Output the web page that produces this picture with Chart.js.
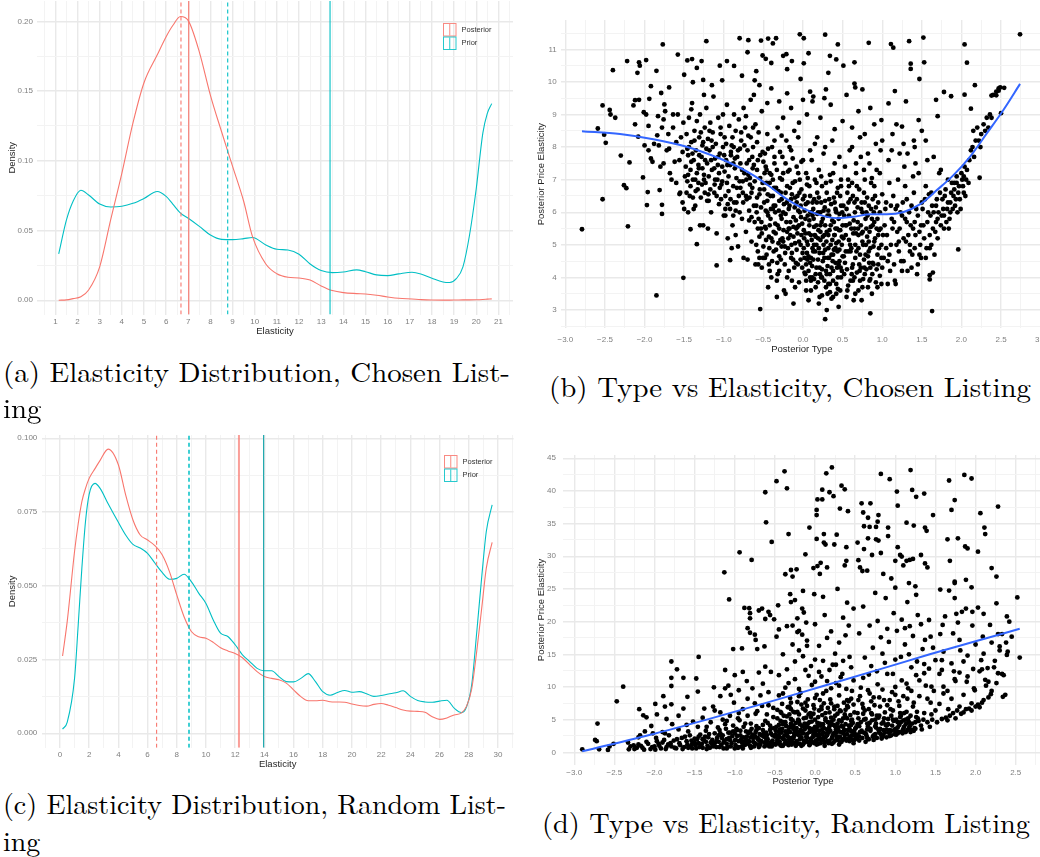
<!DOCTYPE html>
<html>
<head>
<meta charset="utf-8">
<script src="https://cdn.jsdelivr.net/npm/chart.js@4.4.1/dist/chart.umd.min.js"></script>
<style>
  html, body { margin: 0; padding: 0; background: #fff; }
  body { width: 1040px; height: 857px; position: relative; overflow: hidden; }
  .panel { position: absolute; }
  .cap { position: absolute; font-family: "Liberation Serif", serif;
         font-size: 28px; line-height: 28px; color: #000; white-space: nowrap; display: inline-block;
         transform-origin: 0 0; }
</style>
</head>
<body>

<canvas class="panel" id="chartA" width="520" height="340" style="left:0;top:0"></canvas>
<canvas class="panel" id="chartB" width="528" height="360" style="left:520px;top:0"></canvas>
<canvas class="panel" id="chartC" width="520" height="350" style="left:0;top:425px"></canvas>
<canvas class="panel" id="chartD" width="528" height="355" style="left:520px;top:440px"></canvas>

<div class="cap" id="capA1" data-w="507" data-base="381.7" style="left:3px;top:358px">(a) Elasticity Distribution, Chosen List-</div>
<div class="cap" id="capA2" data-of="capA1" data-base="418.2" style="left:3px;top:394px">ing</div>
<div class="cap" id="capB" data-w="482" data-base="397.3" style="left:549px;top:373px">(b) Type vs Elasticity, Chosen Listing</div>
<div class="cap" id="capC1" data-w="503" data-base="814.3" style="left:3px;top:791px">(c) Elasticity Distribution, Random List-</div>
<div class="cap" id="capC2" data-of="capC1" data-base="850.7" style="left:3px;top:827px">ing</div>
<div class="cap" id="capD" data-w="488" data-base="833.3" style="left:542px;top:810px">(d) Type vs Elasticity, Random Listing</div>

<script>
// ---- density curves, chosen listing ----
const chosenX = [1.15, 1.5, 1.8, 2.15, 2.5, 3, 3.5, 4, 4.5, 5, 5.6, 6, 6.3, 6.65, 7, 7.5, 8, 8.5, 9, 9.5,
  9.9, 10.5, 11, 11.5, 12, 12.5, 13, 13.5, 14, 14.6, 15, 15.5, 16, 16.5, 17.1, 17.5, 18, 18.5, 18.8, 19.1,
  19.4, 19.7, 20, 20.3, 20.5, 20.7];
const chosenPosterior = [0, 0.0003, 0.0012, 0.0025, 0.0074, 0.024, 0.058, 0.091, 0.127, 0.156, 0.176, 0.189,
  0.197, 0.2035, 0.2005, 0.178, 0.147, 0.121, 0.096, 0.071, 0.0456, 0.026, 0.019, 0.0165, 0.016, 0.0145,
  0.0103, 0.007, 0.0055, 0.0048, 0.0045, 0.0036, 0.0024, 0.0014, 0.0009, 0.0005, 0.0002, 0.0001, 0.0001,
  0.0002, 0.0003, 0.0003, 0.0004, 0.0006, 0.0008, 0.001];
const chosenPrior = [0.0332, 0.0576, 0.071, 0.0789, 0.0755, 0.069, 0.0669, 0.0674, 0.0695, 0.073, 0.078,
  0.0745, 0.069, 0.0625, 0.0588, 0.053, 0.0468, 0.0437, 0.0435, 0.0442, 0.045, 0.0397, 0.0366, 0.036, 0.033,
  0.026, 0.0213, 0.0198, 0.0203, 0.0218, 0.0205, 0.0182, 0.0177, 0.0189, 0.0201, 0.0189, 0.0158, 0.0131,
  0.0127, 0.0155, 0.024, 0.047, 0.08, 0.12, 0.134, 0.141];
// solid = mean, dashed = median
const chosenPosteriorMean = 7.02, chosenPosteriorMedian = 6.67;
const chosenPriorMean = 13.4, chosenPriorMedian = 8.78;

// ---- density curves, random listing ----
const randomX = [0.18, 0.5, 1, 1.25, 1.5, 1.75, 2, 2.4, 2.75, 3.3, 4, 4.5, 5, 5.5, 6, 6.5, 7, 7.5, 8, 8.5,
  9, 9.5, 10, 10.5, 11, 11.5, 12, 12.5, 13, 13.5, 14, 14.5, 15, 15.5, 16, 16.5, 17, 17.5, 18, 18.5,
  19, 19.5, 20, 20.5, 21, 21.5, 22, 22.5, 23, 23.5, 24, 24.5, 25, 25.5, 26, 26.5, 27, 27.5, 27.85, 28.2,
  28.55, 28.9, 29.2, 29.6];
const randomPosterior = [0.0262, 0.038, 0.0616, 0.071, 0.0785, 0.083, 0.0864, 0.0897, 0.0925, 0.0963,
  0.091, 0.0808, 0.0723, 0.0672, 0.0655, 0.0636, 0.0605, 0.0548, 0.0469, 0.0395, 0.0345, 0.0327, 0.0322,
  0.0308, 0.029, 0.0279, 0.027, 0.0256, 0.0232, 0.0209, 0.0192, 0.0186, 0.0181, 0.017, 0.0147, 0.0124,
  0.011, 0.011, 0.0112, 0.0107, 0.0106, 0.0105, 0.0099, 0.0094, 0.0092, 0.0098, 0.0101, 0.0095, 0.0087,
  0.0079, 0.0075, 0.0074, 0.0071, 0.0056, 0.0047, 0.0052, 0.0062, 0.0069, 0.0092, 0.015, 0.028, 0.043,
  0.056, 0.0647];
const randomPrior = [0.0014, 0.0038, 0.0186, 0.0367, 0.0559, 0.0718, 0.081, 0.0847, 0.083, 0.0778, 0.0715,
  0.0672, 0.064, 0.0628, 0.061, 0.0577, 0.0545, 0.0522, 0.0525, 0.0539, 0.0514, 0.0475, 0.044, 0.0384,
  0.0339, 0.0328, 0.03, 0.0266, 0.0243, 0.022, 0.0212, 0.0212, 0.0192, 0.0175, 0.0174, 0.0186, 0.0202,
  0.0175, 0.0141, 0.0129, 0.0138, 0.0145, 0.0139, 0.0141, 0.0134, 0.0125, 0.0128, 0.0133, 0.0137, 0.0144,
  0.0125, 0.0111, 0.0106, 0.0105, 0.0109, 0.0112, 0.0085, 0.007, 0.009, 0.0164, 0.0345, 0.0537, 0.0684,
  0.0774];
const randomPosteriorMean = 12.26, randomPosteriorMedian = 6.62;
const randomPriorMean = 13.95, randomPriorMedian = 8.84;

// ---- type vs elasticity, chosen listing: [posterior type, posterior price elasticity] ----
const chosenPoints = [
  [-2.79,5.48],[-2.59,8.57],[-2.53,9.28],[-2.53,6.4],[-2.51,8.38],[-2.49,8.13],[-2.44,9.14],[-2.43,9.0],
  [-2.4,10.36],[-2.37,8.9],[-2.3,7.74],[-2.26,6.83],[-2.23,6.74],[-2.22,10.64],[-2.21,5.57],[-2.19,7.53],
  [-2.14,9.28],[-2.12,9.44],[-2.12,8.7],[-2.09,10.28],[-2.07,10.6],[-2.07,9.45],[-2.06,10.5],[-2.08,8.32],
  [-2.02,7.07],[-2.01,9.07],[-1.98,10.67],[-1.97,6.22],[-1.96,6.62],[-1.95,8.65],[-1.92,9.87],[-1.94,9.48],
  [-1.85,10.34],[-1.85,3.45],[-1.84,8.36],[-1.81,6.68],[-1.79,9.66],[-1.78,6.23],[-1.78,5.95],[-1.77,11.15],
  [-1.76,7.5],[-1.75,9.31],[-1.69,9.83],[-1.69,7.95],[-1.64,9.0],[-1.58,10.84],[-1.56,6.56],[-1.51,3.99],
  [-1.5,10.22],[-1.46,10.66],[-1.41,9.16],[-1.4,10.7],[-1.39,9.99],[-1.34,10.43],[-1.28,10.64],[-1.26,10.06],
  [-1.22,11.25],[-1.34,5.02],[-1.42,5.48],[-1.09,4.37],[-1.05,10.5],[-1.02,10.05],[-0.96,10.64],[-0.92,4.53],
  [-0.87,10.49],[-0.8,11.34],[-0.77,10.19],[-0.69,11.28],[-0.7,10.91],[-0.61,10.05],[-0.59,10.33],[-0.53,11.27],
  [-0.54,3.03],[-0.51,10.81],[-0.44,11.33],[-0.47,10.71],[-0.4,10.58],[-0.38,11.18],[-0.34,11.34],[-0.25,10.8],
  [-0.21,10.85],[-0.2,10.39],[-0.14,10.64],[-0.04,11.46],[-0.03,10.09],[0.01,11.34],[0.01,10.57],[0.07,10.88],
  [0.09,9.7],[0.13,9.55],[0.28,11.45],[0.29,9.77],[0.32,10.28],[0.34,10.8],[0.42,10.69],[0.44,11.15],
  [0.51,10.5],[0.65,10.6],[0.66,9.83],[0.75,9.77],[0.83,11.2],[0.99,8.83],[1.08,9.34],[1.11,11.16],
  [1.14,11.05],[1.16,9.72],[1.34,11.25],[1.36,10.56],[1.36,10.4],[1.47,10.09],[1.52,11.36],[1.53,10.6],
  [1.25,8.63],[1.46,8.83],[1.68,9.45],[1.78,9.69],[1.87,9.56],[1.7,8.95],[2.04,11.15],[2.07,10.59],
  [2.04,9.61],[2.17,9.9],[2.12,9.18],[1.96,4.86],[2.23,7.06],[2.74,11.46],[2.44,9.59],[2.49,9.83],
  [2.54,9.82],[2.47,9.73],[2.5,9.04],[2.38,9.58],[1.63,2.97],[0.85,2.9],[0.28,2.72],[1.6,4.07],
  [1.6,3.94],[1.64,4.15],
  [-1.95,7.9],[-1.9,7.55],[-1.88,8.1],[-1.82,8.05],[-1.8,7.4],[-1.76,8.85],[-1.74,9.1],[-1.72,7.9],
  [-1.7,8.4],[-1.68,7.2],[-1.66,7.0],[-1.64,8.6],[-1.62,7.55],[-1.6,8.15],[-1.6,6.9],[-1.58,9.0],
  [-1.56,7.6],[-1.55,6.6],[-1.54,8.3],[-1.52,7.85],[-1.52,6.3],[-1.51,8.75],[-1.5,6.1],[-1.98,9.0],
  [-2.0,8.05],[-1.92,7.65],[-1.83,8.95],[-1.78,8.6],
  [-1.48,7.4],[-1.47,8.4],[-1.46,6.95],[-1.45,7.75],[-1.44,8.9],[-1.43,6.5],[-1.42,7.3],[-1.41,8.15],
  [-1.4,9.35],[-1.39,7.0],[-1.38,7.6],[-1.37,8.5],[-1.36,6.2],[-1.35,7.9],[-1.34,8.8],[-1.33,6.7],
  [-1.32,7.45],[-1.31,8.3],[-1.3,9.0],[-1.29,6.45],[-1.28,7.7],[-1.27,8.05],[-1.26,5.6],[-1.25,7.15],
  [-1.24,8.6],[-1.23,6.9],[-1.22,9.2],[-1.21,7.5],[-1.2,8.25],[-1.19,6.35],[-1.18,7.9],[-1.17,8.75],
  [-1.16,6.0],[-1.15,7.3],[-1.14,8.45],[-1.13,9.55],[-1.12,6.6],[-1.11,7.65],[-1.1,8.1],[-1.09,5.35],
  [-1.08,7.0],[-1.07,8.9],[-1.06,6.25],[-1.05,7.8],[-1.04,8.4],[-1.03,6.85],[-1.02,7.4],[-1.01,9.0],
  [-1.0,5.9],[-1.45,6.0],[-1.38,6.1],[-1.3,5.6],[-1.2,5.5],[-1.25,9.6],[-1.15,9.9],
  [-0.99,8.3],[-0.98,6.5],[-0.97,7.6],[-0.96,9.3],[-0.95,5.2],[-0.94,7.1],[-0.93,8.65],[-0.92,6.1],
  [-0.91,7.85],[-0.9,8.05],[-0.89,5.6],[-0.88,6.8],[-0.87,9.0],[-0.86,7.35],[-0.85,8.5],[-0.84,6.3],
  [-0.83,7.7],[-0.82,4.95],[-0.81,8.85],[-0.8,6.95],[-0.79,7.5],[-0.78,8.2],[-0.77,5.8],[-0.76,6.6],
  [-0.75,9.2],[-0.74,7.2],[-0.73,8.6],[-0.72,5.4],[-0.71,6.4],[-0.7,7.9],[-0.69,8.35],[-0.68,6.05],
  [-0.67,7.05],[-0.66,9.45],[-0.65,5.1],[-0.64,6.75],[-0.63,8.0],[-0.62,7.45],[-0.61,5.7],[-0.6,8.7],
  [-0.59,6.2],[-0.58,7.3],[-0.57,4.8],[-0.56,8.45],[-0.55,6.55],[-0.54,7.75],[-0.53,5.5],[-0.52,9.1],
  [-0.51,6.9],[-0.5,7.55],[-0.98,5.9],[-0.9,4.9],[-0.85,5.3],[-0.75,4.6],[-0.7,4.55],[-0.65,5.85],
  [-0.6,4.4],[-0.55,5.25],[-0.95,6.25],[-0.8,6.0],[-0.72,8.95],[-0.62,9.6],[-0.88,7.5],[-0.68,7.6],
  [-0.58,8.15],
  [-0.49,6.3],[-0.48,4.6],[-0.48,7.8],[-0.47,5.5],[-0.46,6.9],[-0.45,8.4],[-0.44,5.9],[-0.43,4.4],
  [-0.42,7.2],[-0.41,6.5],[-0.4,5.2],[-0.39,8.0],[-0.38,6.1],[-0.37,4.8],[-0.36,7.5],[-0.35,5.65],
  [-0.34,6.75],[-0.33,3.9],[-0.32,8.6],[-0.31,5.05],[-0.3,6.35],[-0.29,7.05],[-0.28,4.55],[-0.27,5.8],
  [-0.26,7.7],[-0.25,6.0],[-0.24,3.6],[-0.23,4.95],[-0.22,6.6],[-0.21,8.2],[-0.2,5.4],[-0.19,7.25],
  [-0.18,4.2],[-0.17,6.2],[-0.16,5.7],[-0.15,7.9],[-0.14,4.75],[-0.13,6.9],[-0.12,5.25],[-0.11,8.5],
  [-0.1,6.45],[-0.09,4.45],[-0.08,7.4],[-0.07,5.55],[-0.06,6.05],[-0.05,3.85],[-0.04,7.0],[-0.03,5.0],
  [-0.02,6.7],[-0.01,4.3],[0.0,7.6],[-0.45,6.0],[-0.42,5.6],[-0.38,7.0],[-0.35,6.2],[-0.3,5.5],
  [-0.28,6.6],[-0.25,5.1],[-0.22,5.95],[-0.18,5.5],[-0.15,6.4],[-0.12,5.85],[-0.1,5.05],[-0.08,6.3],
  [-0.05,5.6],[-0.03,6.2],[-0.02,5.3],[-0.46,7.3],[-0.36,8.2],[-0.27,8.35],[-0.17,8.0],[-0.06,8.3],
  [-0.4,4.0],[-0.3,4.2],[-0.2,4.0],[-0.1,3.7],[-0.33,3.4],[-0.22,3.5],[-0.12,3.2],[-0.44,3.7],
  [0.01,5.45],[0.02,6.5],[0.03,4.1],[0.04,7.2],[0.05,4.75],[0.06,5.9],[0.07,3.3],[0.08,6.8],
  [0.09,4.45],[0.1,5.3],[0.11,7.6],[0.12,4.0],[0.13,6.1],[0.14,5.0],[0.15,8.1],[0.16,3.7],
  [0.17,5.6],[0.18,6.6],[0.19,4.55],[0.2,7.3],[0.21,3.4],[0.22,5.15],[0.23,6.3],[0.24,4.25],
  [0.25,5.8],[0.26,7.8],[0.27,3.9],[0.28,4.85],[0.29,6.9],[0.3,5.4],[0.31,3.5],[0.32,6.05],
  [0.33,4.6],[0.34,7.15],[0.35,5.0],[0.36,3.35],[0.37,5.75],[0.38,4.2],[0.39,6.45],[0.4,7.5],
  [0.41,4.9],[0.42,3.8],[0.43,5.5],[0.44,6.75],[0.45,4.4],[0.46,5.95],[0.47,3.6],[0.48,7.0],
  [0.49,5.25],[0.5,4.65],[0.05,5.1],[0.08,5.6],[0.1,4.6],[0.12,5.9],[0.15,5.3],[0.17,4.3],
  [0.2,4.9],[0.22,5.6],[0.25,4.5],[0.27,5.3],[0.3,4.1],[0.32,4.9],[0.35,5.6],[0.38,4.7],
  [0.4,5.3],[0.43,4.3],[0.45,5.1],[0.48,4.0],[0.02,4.6],[0.06,6.3],[0.14,6.4],[0.19,6.0],
  [0.24,6.8],[0.33,6.4],[0.41,6.1],[0.47,6.5],[0.09,7.9],[0.18,8.3],[0.28,8.0],[0.37,8.2],
  [0.46,7.7],[0.1,3.6],[0.2,3.2],[0.3,3.0],[0.38,3.4],[0.45,3.1],[0.04,3.9],[0.13,4.8],
  [0.23,4.0],[0.34,3.8],[0.42,3.5],
  [0.51,6.2],[0.52,4.1],[0.53,7.4],[0.54,5.3],[0.55,3.4],[0.56,6.6],[0.57,4.8],[0.58,5.9],
  [0.59,7.9],[0.6,3.9],[0.61,5.5],[0.62,6.9],[0.63,4.4],[0.64,3.3],[0.65,6.3],[0.66,5.0],
  [0.67,7.2],[0.68,4.15],[0.69,5.7],[0.7,3.6],[0.71,6.7],[0.72,4.7],[0.73,7.7],[0.74,5.35],
  [0.75,6.0],[0.76,3.95],[0.77,4.55],[0.78,7.0],[0.79,5.8],[0.8,4.25],[0.81,6.45],[0.82,3.7],
  [0.83,5.1],[0.84,7.5],[0.85,4.9],[0.86,6.1],[0.87,3.5],[0.88,5.6],[0.89,4.4],[0.9,6.8],
  [0.91,5.2],[0.92,3.85],[0.93,7.3],[0.94,4.7],[0.95,6.3],[0.96,5.45],[0.97,4.05],[0.98,7.9],
  [0.99,5.0],[1.0,6.55],[0.55,5.6],[0.6,4.8],[0.65,5.5],[0.7,4.9],[0.75,5.1],[0.8,5.5],
  [0.85,4.3],[0.9,5.7],[0.95,4.4],[0.58,6.8],[0.68,6.4],[0.78,6.3],[0.88,6.4],[0.62,8.0],
  [0.72,8.3],[0.82,7.8],[0.92,8.1],[0.66,3.5],[0.74,3.3],[0.84,3.9],[0.94,3.7],
  [1.02,4.6],[1.04,6.1],[1.06,5.3],[1.08,7.6],[1.1,4.2],[1.12,5.8],[1.14,6.5],[1.16,3.9],
  [1.18,5.0],[1.2,7.0],[1.22,5.5],[1.24,4.5],[1.26,6.3],[1.28,7.4],[1.3,5.1],[1.32,4.2],
  [1.34,6.0],[1.36,5.6],[1.38,4.7],[1.4,6.6],[1.42,5.3],[1.44,4.1],[1.46,7.2],[1.48,5.0],
  [1.5,6.3],[1.05,4.9],[1.15,5.7],[1.25,5.9],[1.35,5.0],[1.45,5.9],[1.12,7.9],[1.22,7.8],
  [1.32,7.8],[1.42,7.5],[1.09,6.9],[1.19,6.2],[1.29,6.8],[1.39,7.1],[1.49,4.6],[1.07,3.8],
  [1.17,3.8],[1.27,4.5],[1.37,4.3],[1.47,4.7],[1.13,8.4],[1.27,8.1],[1.41,8.0],
  [1.52,5.6],[1.54,6.4],[1.56,4.9],[1.58,6.0],[1.6,5.3],[1.62,6.6],[1.64,5.5],[1.66,4.7],
  [1.68,6.2],[1.7,5.8],[1.72,7.2],[1.74,5.6],[1.76,6.4],[1.78,5.9],[1.8,6.7],[1.82,6.1],
  [1.84,5.5],[1.86,6.3],[1.88,6.9],[1.9,6.5],[1.92,6.2],[1.94,7.1],[1.96,6.6],[1.98,6.4],
  [2.0,7.2],[2.02,6.8],[2.04,7.4],[2.06,7.0],[1.62,5.0],[1.7,5.2],[1.78,5.5],[1.86,6.0],
  [1.94,6.9],[2.03,6.6],[1.57,7.6],[1.65,7.7],[1.74,7.3],[1.83,7.0],[1.91,6.7],[1.55,4.6],
  [1.6,4.9],[1.68,5.7],
  [2.1,7.6],[2.12,7.9],[2.14,8.0],[2.16,7.7],[2.18,8.2],[2.2,8.6],[2.22,8.2],[2.25,8.4],
  [2.28,8.7],[2.3,8.5],[2.32,8.9],[2.34,8.6],[2.36,9.0],[2.38,8.9],[2.4,9.6],[2.44,9.7],
  [2.47,9.8],[2.15,8.5],[2.24,8.0],
  [-0.45,9.35],[-0.3,9.4],[-0.15,9.2],[0.05,9.0],[0.12,9.4],[0.22,8.9],[0.35,9.3],[0.5,8.8],
  [0.62,8.6],[0.7,9.1],[0.78,8.4],[0.9,8.7],[1.0,8.2],[1.18,8.7],[-0.25,8.9],[-0.05,8.75],
  [0.4,8.55],[0.55,9.6],[0.85,9.2],[-0.55,9.9],[-0.4,9.8],[-0.2,9.65],[0.0,9.45],[0.27,9.5],
  [0.65,9.95],[1.4,8.2],[1.5,8.5],[1.55,8.2],[1.3,9.4]
];
// the packed centre of the cloud
const chosenPointsDense = [
  [-1.49,7.1],[-1.47,6.6],[-1.44,8.0],[-1.41,7.55],[-1.39,6.45],[-1.37,8.2],[-1.34,7.2],[-1.32,6.9],
  [-1.29,8.45],[-1.27,7.35],[-1.24,6.6],[-1.22,7.95],[-1.19,7.1],[-1.17,6.7],[-1.14,8.0],[-1.12,7.35],
  [-1.09,6.5],[-1.07,7.7],[-1.04,8.6],[-1.02,6.95],[-0.99,7.25],[-0.97,8.1],[-0.94,6.65],[-0.92,7.45],
  [-0.89,8.3],[-0.87,6.3],[-0.84,7.05],[-0.82,7.9],[-0.79,6.75],[-0.77,7.3],[-0.74,8.05],[-0.72,6.5],
  [-0.69,7.15],[-0.67,6.85],[-0.64,7.7],[-0.62,6.2],[-1.46,7.95],[-1.36,7.0],[-1.26,8.15],[-1.16,7.6],
  [-1.06,7.2],[-0.96,6.9],[-0.86,7.65],[-0.76,6.95],[-0.66,8.3],[-1.42,6.8],[-1.31,7.75],[-1.21,6.35],
  [-1.11,7.0],[-1.01,8.0],[-0.91,7.75],[-0.81,6.5],[-0.71,7.5],[-0.61,6.95],[-1.18,8.5],[-0.98,6.1],
  [-0.88,5.9],[-0.78,8.45],[-0.68,5.75],[-0.63,8.6],
  [-0.59,5.0],[-0.58,6.45],[-0.57,7.6],[-0.56,5.8],[-0.55,4.6],[-0.54,7.05],[-0.53,6.15],[-0.52,5.35],
  [-0.51,7.85],[-0.5,4.95],[-0.49,6.7],[-0.48,5.55],[-0.47,7.4],[-0.46,4.7],[-0.45,6.35],[-0.44,7.95],
  [-0.43,5.25],[-0.42,6.9],[-0.41,5.8],[-0.4,7.15],[-0.39,4.5],[-0.38,6.5],[-0.37,5.4],[-0.36,7.7],
  [-0.35,6.0],[-0.34,4.85],[-0.33,7.3],[-0.32,5.6],[-0.31,6.65],[-0.3,4.65],[-0.29,7.85],[-0.28,5.9],
  [-0.27,6.4],[-0.26,5.2],[-0.25,7.2],[-0.24,6.25],[-0.23,4.4],[-0.22,7.5],[-0.21,5.7],[-0.2,6.8],
  [-0.19,4.9],[-0.18,6.1],[-0.17,7.3],[-0.16,5.3],[-0.15,4.6],[-0.14,6.55],[-0.13,7.65],[-0.12,5.55],
  [-0.11,4.3],[-0.1,6.95],[-0.09,5.75],[-0.08,4.85],[-0.07,6.5],[-0.06,7.2],[-0.05,5.1],[-0.04,6.0],
  [-0.03,4.55],[-0.02,7.55],[-0.01,5.65],[0.0,6.4],[-0.57,5.5],[-0.47,6.05],[-0.37,6.2],[-0.27,4.95],
  [-0.17,5.5],[-0.07,5.35],[-0.52,4.3],[-0.42,4.2],[-0.32,4.1],[-0.14,3.9],
  [0.01,4.9],[0.02,6.05],[0.03,5.35],[0.04,4.4],[0.05,6.85],[0.06,5.0],[0.07,4.2],[0.08,5.75],
  [0.09,6.5],[0.1,3.9],[0.11,5.15],[0.12,6.3],[0.13,4.55],[0.14,5.55],[0.15,7.0],[0.16,4.1],
  [0.17,5.0],[0.18,5.95],[0.19,3.85],[0.2,6.45],[0.21,4.75],[0.22,5.4],[0.23,7.1],[0.24,4.0],
  [0.25,5.25],[0.26,6.05],[0.27,4.6],[0.28,5.6],[0.29,3.7],[0.3,6.6],[0.31,4.35],[0.32,5.3],
  [0.33,5.9],[0.34,4.1],[0.35,6.95],[0.36,4.7],[0.37,5.15],[0.38,3.9],[0.39,5.7],[0.4,6.3],
  [0.41,4.45],[0.42,5.05],[0.43,6.6],[0.44,3.65],[0.45,5.8],[0.46,4.85],[0.47,5.45],[0.48,6.2],
  [0.49,4.2],[0.5,5.6],[0.03,5.8],[0.07,4.65],[0.11,6.0],[0.16,5.25],[0.21,4.3],[0.26,5.0],
  [0.31,5.9],[0.36,4.3],[0.41,5.5],[0.46,4.5],[0.04,3.6],[0.14,3.95],[0.24,3.45],[0.34,3.55],
  [0.44,4.0],[0.06,7.05],[0.17,6.9],[0.28,6.35],[0.38,7.2],[0.48,6.8],[0.09,4.0],[0.19,5.2],
  [0.29,4.2],[0.39,4.85],[0.49,5.0],[0.02,4.15],[0.12,4.9],[0.22,6.0],[0.32,3.8],[0.42,6.0],
  [0.51,5.2],[0.53,4.45],[0.55,6.1],[0.57,3.75],[0.59,5.65],[0.61,4.9],[0.63,6.5],[0.65,4.0],
  [0.67,5.35],[0.69,6.15],[0.71,4.4],[0.73,5.6],[0.75,3.7],[0.77,6.6],[0.79,4.7],[0.81,5.25],
  [0.83,6.2],[0.85,3.95],[0.87,5.8],[0.89,4.95],[0.91,6.5],[0.93,4.25],[0.95,5.3],[0.97,6.0],
  [0.99,4.6],[0.52,5.9],[0.54,4.8],[0.56,3.6],[0.58,5.15],[0.6,6.4],[0.62,4.3],[0.64,5.75],
  [0.66,4.6],[0.68,6.8],[0.7,5.3],[0.72,3.9],[0.74,6.3],[0.76,5.0],[0.78,4.1],[0.8,6.0],
  [0.82,4.65],[0.84,5.4],[0.86,6.9],[0.88,4.45],[0.9,5.1],[0.92,6.15],[0.94,5.8],[0.96,4.9],
  [0.98,5.5],[1.0,4.3],[0.57,7.0],[0.67,7.5],[0.77,7.3],[0.87,7.05],[0.97,7.2],[0.63,3.9],
  [0.73,4.3],[0.83,4.8],[0.93,5.5],[0.99,3.8],
  [1.03,5.6],[1.07,4.5],[1.11,6.2],[1.15,4.4],[1.19,5.4],[1.23,6.0],[1.27,5.2],[1.31,6.4],
  [1.35,4.8],[1.39,5.5],[1.43,6.1],[1.47,5.4],[1.11,5.0],[1.21,4.8],[1.31,5.7],[1.41,4.9],
  [1.51,6.1],[1.53,5.2],[1.57,5.7],[1.59,6.55],[1.61,5.9],[1.63,6.2],[1.67,5.4],[1.69,6.4],
  [1.71,6.0],[1.73,6.6],[1.77,6.1],[1.79,6.5],[1.81,5.7],[1.83,6.3],[1.87,6.6],[1.89,6.1],
  [1.91,6.9],[1.93,6.4],[1.97,6.8],[1.99,6.1],[2.01,7.0],[2.05,6.5],[2.07,7.3],[2.09,6.9],
  [1.75,5.9],[1.85,5.8],[1.95,6.0],[2.03,7.1],[1.65,6.0],[1.55,6.8],
  [-0.585,6.0],[-0.565,4.4],[-0.545,6.7],[-0.525,5.7],[-0.505,4.6],[-0.485,7.2],[-0.465,5.15],[-0.445,6.55],
  [-0.425,4.9],[-0.405,6.1],[-0.385,5.1],[-0.365,6.75],[-0.345,5.35],[-0.325,4.45],[-0.305,6.05],[-0.285,5.15],
  [-0.265,7.0],[-0.245,5.45],[-0.225,4.75],[-0.205,6.3],[-0.185,5.2],[-0.165,6.75],[-0.145,5.0],[-0.125,4.55],
  [-0.105,6.15],[-0.085,5.5],[-0.065,4.4],[-0.045,6.6],[-0.025,5.85],[-0.005,4.75],
  [0.015,5.2],[0.035,6.25],[0.055,4.55],[0.075,5.35],[0.095,6.0],[0.115,4.35],[0.135,5.8],[0.155,4.8],
  [0.175,6.3],[0.195,5.45],[0.215,4.1],[0.235,5.7],[0.255,4.75],[0.275,6.15],[0.295,5.1],[0.315,4.6],
  [0.335,5.45],[0.355,6.25],[0.375,4.5],[0.395,5.3],[0.415,6.05],[0.435,4.8],[0.455,5.45],[0.475,4.3],
  [0.495,6.0],[0.515,4.65],[0.535,5.6],[0.555,4.25],[0.575,6.3],[0.595,5.0],[0.615,4.1],[0.635,5.35],
  [0.655,6.0],[0.675,4.8],[0.695,5.5],[0.715,4.2],[0.735,6.1],[0.755,5.4],[0.775,4.3],[0.795,5.0],
  [0.815,5.9],[0.835,4.45],[0.855,5.55],[0.875,4.1],[0.895,6.0],
  [-1.395,7.8],[-1.355,6.65],[-1.315,7.35],[-1.275,6.85],[-1.235,7.6],[-1.195,6.55],[-1.155,8.2],[-1.115,6.85],
  [-1.075,7.45],[-1.035,6.4],[-0.995,7.75],[-0.955,7.45],[-0.915,6.4],[-0.875,8.0],[-0.835,6.75],[-0.795,7.95],
  [-0.755,6.3],[-0.715,7.0],[-0.675,6.45],[-0.635,7.35],[-1.45,7.15],[-1.25,7.0],[-1.05,6.75],[-0.85,6.05],
  [-0.65,6.6],
  [1.01,5.3],[1.05,6.3],[1.09,4.7],[1.13,5.5],[1.17,6.1],[1.21,5.1],[1.25,4.2],[1.29,5.8],
  [1.33,5.3],[1.37,6.2],[1.41,5.7],[1.45,4.4],[1.49,5.6]
];
const chosenFitX = [-2.79, -2.31, -1.89, -1.47, -1.05, -0.84, -0.63, -0.42, -0.21, 0, 0.21, 0.43, 0.64,
  0.85, 1.06, 1.27, 1.48, 1.69, 1.9, 2.11, 2.32, 2.53, 2.74];
const chosenFitY = [8.49, 8.4, 8.24, 8.01, 7.65, 7.42, 7.14, 6.79, 6.41, 6.12, 5.92, 5.82, 5.86, 5.94,
  5.94, 6.01, 6.25, 6.68, 7.14, 7.71, 8.42, 9.14, 9.94];

// ---- type vs elasticity, random listing ----
const randomPoints = [
  [-2.9,0.46],[-2.74,1.9],[-2.72,1.7],[-2.71,4.4],[-2.69,0.46],[-2.58,0.36],[-2.56,0.9],[-2.51,1.3],
  [-2.47,7.8],[-2.39,10.05],[-2.33,1.5],[-2.32,0.46],[-2.26,1.07],[-2.19,6.6],[-2.18,2.6],[-2.14,5.66],
  [-2.1,5.36],[-2.04,4.03],[-1.99,7.4],[-1.97,5.8],[-1.89,8.6],[-1.87,7.0],[-1.79,13.9],[-1.79,11.4],
  [-1.79,10.15],[-1.79,7.35],[-1.72,12.7],[-1.64,11.4],[-1.59,8.5],[-1.64,6.7],[-1.48,11.3],[-1.45,14.6],
  [-1.46,9.3],[-1.38,6.7],[-1.26,9.95],[-1.18,8.6],[-1.13,27.55],[-1.12,12.6],[-1.07,23.4],[-1.08,10.2],
  [-1.0,11.8],[-1.02,15.8],[-0.94,30.6],[-0.91,15.9],[-0.88,22.1],[-0.82,22.05],[-0.81,21.3],[-0.81,20.5],
  [-0.84,19.0],[-0.81,18.3],[-0.79,29.45],[-0.75,18.0],[-0.74,17.2],[-0.72,15.8],[-0.7,21.7],[-0.66,22.0],
  [-0.63,16.2],[-0.62,39.8],[-0.61,35.2],[-0.62,20.4],[-0.58,21.5],[-0.54,32.2],[-0.56,21.0],[-0.51,20.35],
  [-0.48,41.5],[-0.46,22.5],[-0.48,17.7],[-0.38,43.0],[-0.35,40.4],[-0.33,33.4],[-0.37,27.25],[-0.3,27.9],
  [-0.28,26.9],[-0.23,28.0],[-0.31,24.2],[-0.28,19.4],[-0.25,23.3],[-0.22,18.4],[-0.2,18.6],[-0.12,30.3],
  [-0.15,24.7],[-0.16,22.0],[-0.14,21.4],[-0.11,19.85],[-0.1,16.3],[-0.07,34.4],[-0.01,24.2],[-0.02,28.2],
  [0.02,37.1],[0.02,36.3],[0.02,32.65],[0.03,28.5],[0.03,38.7],[0.06,27.3],[0.07,29.0],[0.09,40.2],
  [0.09,38.7],[0.11,33.4],[0.11,32.1],[0.13,31.8],[0.14,42.7],[0.15,28.3],[0.18,39.8],[0.21,43.6],
  [0.23,39.2],[0.27,33.3],[0.24,31.8],[0.31,37.3],[0.33,40.8],[0.37,40.25],[0.41,36.9],[0.37,28.6],
  [0.39,29.3],[0.39,31.4],[0.53,32.1],[0.58,38.1],[0.6,36.7],[0.61,34.6],[0.66,35.9],[0.69,38.1],
  [0.66,32.75],[0.61,31.1],[0.71,30.2],[0.54,29.4],[0.56,28.3],[0.59,27.75],[0.68,34.5],[0.76,34.5],
  [0.78,35.3],[0.79,36.3],[0.82,42.6],[0.76,32.6],[0.79,32.4],[0.82,30.5],[0.85,27.3],[0.93,41.8],
  [0.91,34.4],[0.91,33.1],[1.0,29.3],[1.02,39.9],[1.03,37.75],[1.03,31.4],[1.06,30.2],[1.08,29.95],
  [1.1,28.6],[1.14,35.15],[1.17,25.9],[1.19,43.2],[1.21,40.15],[1.23,34.7],[1.26,39.1],[1.14,29.3],
  [1.18,29.45],[1.22,29.6],[1.26,24.1],[1.32,30.2],[1.36,39.6],[1.37,34.4],[1.39,33.9],[1.37,28.9],
  [1.4,28.3],[1.47,36.3],[1.42,20.25],[1.56,24.9],[1.59,19.5],[1.67,41.6],[1.65,32.6],[1.68,29.3],
  [1.67,24.75],[1.7,37.1],[1.74,38.6],[1.74,26.1],[1.74,25.9],[1.74,23.6],[1.78,32.75],[1.76,21.2],
  [1.78,19.85],[1.83,21.5],[1.86,42.45],[1.88,26.4],[1.87,31.5],[1.9,31.2],[1.95,41.9],[1.95,25.25],
  [1.96,21.5],[1.96,19.4],[2.03,30.7],[2.03,22.15],[2.06,36.6],[2.11,34.4],[2.12,33.4],[2.1,21.2],
  [2.09,17.7],[2.2,28.2],[2.28,37.6],[2.26,26.9],[2.26,22.8],[2.28,18.1],[2.3,16.2],[2.33,18.1],
  [2.24,14.0],[2.39,20.8],[2.4,15.4],[2.39,14.9],[2.45,17.7],[2.52,23.7],[2.55,14.5],[2.35,11.8],
  [2.37,8.8],[2.34,8.5],[2.28,12.1],[2.19,8.9],[2.16,10.8],[2.12,11.1],[2.08,12.7],[2.07,14.1],
  [1.99,9.5],[1.97,12.75],[1.89,10.8],[1.85,13.9],[1.81,15.6],[1.74,11.2],[1.73,12.4],[1.65,9.4],
  [1.6,10.05],[1.58,12.6],[1.58,14.1],[1.56,18.1],[1.5,14.1],[1.45,10.05],[1.44,17.7],[1.36,12.1],
  [1.36,13.5],
  [-2.3,0.9],[-2.25,0.5],[-2.2,1.2],[-2.15,0.7],[-2.1,1.6],[-2.05,0.5],[-2.0,0.9],[-1.98,2.2],
  [-1.95,1.3],[-1.92,0.6],[-1.9,3.1],[-1.88,1.9],[-1.85,0.8],[-1.82,2.6],[-1.8,1.4],[-1.78,4.3],
  [-1.75,0.7],[-1.72,2.0],[-1.7,3.5],[-1.68,1.1],[-1.65,0.5],[-1.62,2.4],[-1.6,1.7],[-1.58,3.2],
  [-1.55,0.9],[-1.52,4.7],[-1.5,2.1],[-2.12,3.2],[-2.02,2.9],[-1.85,5.1],[-1.7,5.6],[-1.6,4.2],
  [-1.53,1.3],[-1.97,1.7],[-1.87,2.9],[-2.2,2.3],
  [-1.48,0.6],[-1.46,3.9],[-1.45,1.4],[-1.43,2.7],[-1.42,0.9],[-1.4,5.3],[-1.38,1.8],[-1.36,3.3],
  [-1.35,0.5],[-1.33,2.3],[-1.3,4.6],[-1.28,1.2],[-1.27,7.0],[-1.25,2.9],[-1.23,0.8],[-1.21,3.8],
  [-1.2,1.6],[-1.18,6.1],[-1.16,2.2],[-1.14,0.6],[-1.12,4.3],[-1.1,1.3],[-1.08,3.0],[-1.06,5.6],
  [-1.05,0.9],[-1.03,2.5],[-1.01,7.6],[-1.0,1.8],[-0.98,3.6],[-0.96,0.7],[-0.94,4.9],[-0.92,2.0],
  [-0.9,6.6],[-0.88,1.1],[-0.86,3.2],[-0.84,8.2],[-0.82,1.6],[-0.8,4.4],[-0.78,2.7],[-0.76,0.9],
  [-0.74,5.9],[-0.72,2.2],[-0.7,3.7],[-0.68,1.3],[-0.66,7.1],[-0.64,2.9],[-0.62,4.8],[-0.6,1.7],
  [-0.58,9.2],[-0.56,3.4],[-0.54,0.9],[-0.52,5.4],[-0.5,2.4],[-1.4,2.0],[-1.3,1.5],[-1.2,2.6],
  [-1.1,2.0],[-1.0,2.9],[-0.9,1.6],[-0.8,2.3],[-0.7,1.9],[-0.6,2.6],[-0.55,1.5],[-1.35,3.9],
  [-1.15,5.0],[-0.95,6.0],[-0.75,7.5],[-0.65,10.5],[-0.55,12.3],[-0.45,11.8],[-0.62,13.1],[-0.7,12.2],
  [-0.85,10.9],[-0.95,9.5],[-1.05,8.8],[-1.25,6.4],[-0.78,9.8],[-0.68,8.7],[-0.58,7.2],[-1.12,9.8],
  [-0.9,12.3],
  [-0.49,1.2],[-0.48,3.9],[-0.47,6.5],[-0.46,2.2],[-0.45,8.7],[-0.44,1.6],[-0.43,4.8],[-0.42,3.0],
  [-0.41,7.4],[-0.4,1.0],[-0.39,5.6],[-0.38,2.6],[-0.37,9.9],[-0.36,4.1],[-0.35,1.4],[-0.34,6.9],
  [-0.33,3.4],[-0.32,2.0],[-0.31,8.3],[-0.3,5.1],[-0.29,1.2],[-0.28,3.8],[-0.27,6.2],[-0.26,2.5],
  [-0.25,11.2],[-0.24,4.5],[-0.23,1.7],[-0.22,7.7],[-0.21,3.1],[-0.2,5.8],[-0.19,1.3],[-0.18,9.1],
  [-0.17,2.3],[-0.16,4.0],[-0.15,6.7],[-0.14,1.8],[-0.13,3.5],[-0.12,12.6],[-0.11,5.3],[-0.1,2.8],
  [-0.09,8.1],[-0.08,1.5],[-0.07,4.6],[-0.06,6.0],[-0.05,2.1],[-0.04,10.3],[-0.03,3.6],[-0.02,7.2],
  [-0.01,1.4],[0.0,5.0],[0.01,2.6],[0.02,8.8],[0.03,3.9],[0.04,1.3],[0.05,6.4],[0.06,4.4],
  [0.07,2.0],[0.08,11.6],[0.09,5.7],[0.1,3.0],[0.11,7.5],[0.12,1.5],[0.13,4.9],[0.14,9.4],
  [0.15,2.6],[0.16,6.8],[0.17,3.6],[0.18,1.8],[0.19,8.1],[0.2,5.3],[0.21,2.2],[0.22,13.4],
  [0.23,4.2],[0.24,7.0],[0.25,3.0],[0.26,10.6],[0.27,1.9],[0.28,5.9],[0.29,3.8],[0.3,8.7],
  [0.31,2.4],[0.32,6.3],[0.33,4.7],[0.34,12.0],[0.35,2.0],[0.36,7.6],[0.37,3.4],[0.38,5.4],
  [0.39,9.7],[0.4,2.8],[0.41,6.9],[0.42,4.1],[0.43,14.6],[0.44,2.3],[0.45,8.2],[0.46,5.0],
  [0.47,3.2],[0.48,11.0],[0.49,6.1],[0.5,2.5],
  [-0.45,3.1],[-0.35,3.0],[-0.25,3.3],[-0.15,2.9],[-0.05,3.2],[0.05,3.3],[0.15,3.5],[0.25,4.0],
  [0.35,3.9],[0.45,4.2],[-0.4,4.6],[-0.3,4.4],[-0.2,4.8],[-0.1,4.2],[0.0,3.9],[0.1,4.3],
  [0.2,4.6],[0.3,4.9],[0.4,5.2],[-0.42,6.0],[-0.32,5.8],[-0.22,6.2],[-0.12,6.4],[-0.02,5.9],
  [0.08,6.6],[0.18,6.1],[0.28,7.1],[0.38,6.5],[0.48,7.3],[-0.3,7.6],[-0.2,8.6],[-0.1,7.1],
  [0.0,8.3],[0.1,9.0],[0.2,9.8],[0.3,10.2],[0.4,8.0],[0.15,10.9],[0.05,12.3],[-0.05,13.2],
  [-0.15,14.7],[-0.25,13.9],[-0.35,12.7],[-0.2,15.6],[0.0,14.2],[0.25,15.1],[0.35,14.0],[0.45,13.0],
  [-0.1,17.1],[0.05,16.3],[0.15,17.5],[0.3,16.8],[-0.28,16.5],[-0.4,15.0],[-0.45,18.8],[-0.35,19.3],
  [-0.22,20.5],[0.0,19.6],[0.12,21.0],[0.2,18.5],[0.35,20.6],[0.42,19.4],[0.48,22.0],[-0.3,23.0],
  [0.1,23.8],[0.28,25.0],[0.4,22.9],[-0.47,1.9],[-0.37,1.8],[-0.27,2.1],[-0.17,1.0],[-0.07,1.1],
  [0.03,1.9],[0.13,2.3],[0.23,1.5],[0.33,1.6],[0.43,1.7],[-0.33,1.1],[0.0,1.6],[0.37,2.2],
  [0.52,2.1],[0.54,5.2],[0.56,8.6],[0.58,3.3],[0.6,11.4],[0.62,6.4],[0.64,2.6],[0.66,9.5],
  [0.68,4.5],[0.7,13.2],[0.72,2.4],[0.74,7.2],[0.76,3.8],[0.78,10.4],[0.8,5.6],[0.82,2.8],
  [0.84,15.1],[0.86,8.0],[0.88,4.2],[0.9,12.0],[0.92,3.0],[0.94,6.6],[0.96,9.2],[0.98,4.8],
  [1.0,14.2],[1.02,3.2],[1.04,7.8],[1.06,5.4],[1.08,11.0],[1.1,3.6],[1.12,16.5],[1.14,6.2],
  [1.16,9.8],[1.18,4.0],[1.2,13.0],[1.22,7.0],[1.24,3.7],[1.26,11.8],[1.28,5.2],[1.3,8.6],
  [1.32,4.1],[1.34,15.8],[1.36,6.0],[1.38,10.2],[1.4,4.6],[1.42,12.8],[1.44,7.6],[1.46,5.0],
  [1.48,9.4],[1.5,6.4],
  [0.55,4.0],[0.65,3.5],[0.75,5.0],[0.85,3.4],[0.95,5.6],[1.05,4.2],[1.15,5.0],[1.25,4.6],
  [1.35,5.0],[1.45,5.8],[0.6,6.8],[0.7,7.8],[0.8,8.4],[0.9,7.2],[1.0,10.0],[1.1,8.6],
  [1.2,9.4],[1.3,11.0],[1.4,8.2],[0.57,9.9],[0.67,11.9],[0.77,12.4],[0.87,13.7],[0.97,12.0],
  [1.07,14.6],[1.17,15.0],[1.27,13.9],[1.37,17.2],[1.47,16.0],[0.62,14.5],[0.72,16.0],[0.82,17.6],
  [0.92,16.9],[1.02,18.6],[1.12,19.0],[1.22,17.8],[1.32,19.6],[0.55,18.2],[0.68,19.4],[0.78,20.1],
  [0.9,18.9],[0.98,21.3],[1.08,20.3],[1.18,19.3],[1.28,21.0],[0.6,22.3],[0.75,24.4],[0.88,23.6],
  [1.0,25.2],[1.15,23.0],[0.65,27.8],[0.95,26.6],[1.25,25.4],[0.53,2.7],[0.63,1.6],[0.73,1.9],
  [0.83,2.1],[0.93,2.5],[1.03,2.9],[1.13,3.1],[1.23,3.3],[1.33,3.5],[1.43,3.9],
  [1.52,4.6],[1.55,7.4],[1.58,5.1],[1.6,9.0],[1.63,5.3],[1.66,6.6],[1.68,5.6],[1.7,8.2],
  [1.72,6.0],[1.75,10.9],[1.77,6.4],[1.8,7.0],[1.82,5.9],[1.85,8.8],[1.88,6.6],[1.9,11.6],
  [1.92,6.7],[1.95,7.5],[1.98,9.8],[2.0,7.0],[2.03,7.3],[2.05,12.4],[2.08,7.6],[2.1,8.0],
  [2.13,10.2],[2.16,8.4],[2.2,9.4],[2.23,13.0],[2.26,10.6],[2.3,15.6],[2.33,12.0],[2.38,16.8],
  [2.42,20.0],[1.6,15.4],[1.7,13.6],[1.8,17.2],[1.9,14.8],[2.0,16.5],[2.1,15.1],[2.2,16.8],
  [1.65,4.9],[1.75,5.2],[1.85,6.1],[1.95,6.4],[2.05,6.9],[1.55,12.0],[1.8,12.2],[2.15,12.9],
  [1.62,20.8],[1.88,22.0],[2.18,19.5],[1.72,18.2]
];
// the packed lower band of the cloud
const randomPointsDense = [
  [-2.22,0.7],[-2.17,1.0],[-2.13,0.4],[-2.08,1.3],[-2.03,0.8],[-1.99,0.4],[-1.94,1.0],[-1.9,1.5],
  [-1.86,0.5],[-1.83,1.2],[-1.79,0.9],[-1.76,1.8],[-1.73,0.6],[-1.69,1.4],[-1.66,2.2],[-1.63,0.8],
  [-1.59,1.2],[-1.56,2.6],[-1.53,0.6],[-1.5,1.5],[-1.47,2.0],[-1.44,0.8],[-1.41,1.3],[-1.37,2.4],
  [-1.34,1.0],[-1.31,0.7],[-1.28,1.9],[-1.25,1.4],[-1.22,2.2],[-1.19,0.8],
  [-1.19,3.4],[-1.17,1.1],[-1.15,2.6],[-1.13,1.8],[-1.11,3.6],[-1.09,0.8],[-1.07,2.2],[-1.04,1.4],
  [-1.02,4.1],[-0.99,1.1],[-0.97,2.5],[-0.95,1.7],[-0.93,3.3],[-0.91,0.9],[-0.89,2.3],[-0.87,4.4],
  [-0.85,1.3],[-0.83,2.9],[-0.81,1.0],[-0.79,3.6],[-0.77,1.6],[-0.75,2.5],[-0.73,4.0],[-0.71,1.2],
  [-0.69,2.8],[-0.67,1.7],[-0.65,3.4],[-0.63,0.9],[-0.61,2.1],[-0.59,4.5],[-0.57,1.2],[-0.55,2.9],
  [-0.53,1.8],[-0.51,3.7],[-1.1,4.8],[-0.96,5.2],[-0.84,5.6],[-0.72,6.3],[-0.6,5.8],[-0.52,6.8],
  [-1.0,0.6],[-0.9,0.6],[-0.8,0.7],[-0.7,0.8],[-0.6,1.1],[-0.86,1.9],[-0.74,3.1],[-0.64,2.4],
  [-0.56,4.1],[-1.06,3.0],
  [-0.49,2.7],[-0.47,5.2],[-0.46,1.4],[-0.44,3.5],[-0.43,6.2],[-0.41,2.2],[-0.4,4.3],[-0.38,1.3],
  [-0.37,3.2],[-0.35,5.5],[-0.34,2.4],[-0.32,7.0],[-0.31,3.9],[-0.29,1.6],[-0.28,4.9],[-0.26,2.9],
  [-0.25,6.1],[-0.23,3.7],[-0.22,1.3],[-0.2,2.6],[-0.19,4.3],[-0.17,7.3],[-0.16,3.0],[-0.14,5.2],
  [-0.13,1.5],[-0.11,3.9],[-0.1,2.2],[-0.08,5.8],[-0.07,3.1],[-0.05,1.7],[-0.04,4.7],[-0.02,2.7],
  [-0.01,6.7],[0.01,3.4],[0.02,1.2],[0.04,5.4],[0.05,2.3],[0.07,4.1],[0.08,7.0],[0.1,1.9],
  [0.11,3.7],[0.13,6.0],[0.14,2.9],[0.16,4.6],[0.17,1.4],[0.19,3.3],[0.2,7.5],[0.22,2.5],
  [0.23,5.0],[0.25,1.8],[0.26,3.5],[0.28,4.4],[0.29,2.2],[0.31,6.4],[0.32,3.1],[0.34,1.9],
  [0.35,5.2],[0.37,2.7],[0.38,4.3],[0.4,7.1],[0.41,2.0],[0.43,3.6],[0.44,5.7],[0.46,2.6],
  [0.47,4.5],[0.49,1.9],[0.5,3.6],[-0.45,4.2],[-0.36,4.0],[-0.27,3.6],[-0.18,3.4],[-0.09,4.4],
  [0.0,2.9],[0.09,2.7],[0.18,4.0],[0.27,3.0],[0.36,3.3],[0.45,3.2],[-0.42,1.0],[-0.24,1.0],
  [-0.06,1.3],[0.12,1.0],[0.3,1.2],[0.48,1.4],[-0.3,6.6],[-0.12,7.6],[0.06,8.0],[0.24,6.6],
  [0.42,7.8],[-0.2,9.7],[0.0,10.8],[0.18,12.6],[0.32,11.5],[0.46,9.4],[-0.4,9.0],[-0.33,10.6],
  [-0.08,11.7],[0.1,14.0],[0.26,13.4],[0.38,17.9],[-0.16,18.0],
  [0.51,3.8],[0.53,6.0],[0.55,2.4],[0.57,4.6],[0.59,7.4],[0.61,3.0],[0.63,5.1],[0.65,2.2],
  [0.67,6.6],[0.69,3.6],[0.71,4.9],[0.73,8.4],[0.75,2.8],[0.77,5.6],[0.79,3.4],[0.81,7.0],
  [0.83,4.4],[0.85,2.5],[0.87,6.1],[0.89,3.5],[0.91,5.1],[0.93,8.0],[0.95,3.3],[0.97,6.4],
  [0.99,2.8],[1.01,5.0],[1.03,3.8],[1.05,7.1],[1.07,4.6],[1.09,3.3],[1.11,6.0],[1.13,4.3],
  [1.15,8.2],[1.17,3.7],[1.19,5.6],[1.21,4.4],[1.23,7.6],[1.25,3.6],[1.27,6.2],[1.29,4.8],
  [0.56,3.1],[0.66,4.0],[0.76,4.4],[0.86,5.2],[0.96,4.1],[1.06,6.0],[1.16,5.2],[1.26,5.4],
  [0.6,5.9],[0.7,6.0],[0.8,3.0],[0.9,4.2],[1.0,3.6],[1.1,4.9],[1.2,3.4],[0.54,8.0],
  [0.68,9.0],[0.84,9.6],[1.0,8.8],[1.14,10.5],
  [-0.99,1.9],[-0.97,3.4],[-0.95,0.8],[-0.93,2.6],[-0.91,1.5],[-0.89,3.9],[-0.87,1.2],[-0.85,2.4],
  [-0.83,1.8],[-0.81,3.2],[-0.79,0.8],[-0.77,2.2],[-0.75,1.4],[-0.73,3.4],[-0.71,2.0],[-0.69,1.0],
  [-0.67,2.6],[-0.65,4.2],[-0.63,1.5],[-0.61,3.0],[-0.59,2.0],[-0.57,0.9],[-0.55,3.7],[-0.53,2.6],
  [-0.51,1.3],[-0.49,3.3],[-0.47,1.6],[-0.45,2.5],[-0.43,1.1],[-0.41,3.6],[-0.39,2.0],[-0.37,4.6],
  [-0.35,2.6],[-0.33,1.5],[-0.31,3.1],[-0.29,2.2],[-0.27,4.1],[-0.25,1.4],[-0.23,2.8],[-0.21,5.0],
  [-0.19,2.0],[-0.17,3.3],[-0.15,1.2],[-0.13,4.4],[-0.11,2.4],[-0.09,1.6],[-0.07,3.7],[-0.05,5.4],
  [-0.03,2.3],[-0.01,3.2],[0.01,1.8],[0.03,4.5],[0.05,2.8],[0.07,1.4],[0.09,3.5],[0.11,2.3],
  [0.13,5.2],[0.15,1.7],[0.17,3.0],[0.19,4.3],[0.21,1.3],[0.23,2.9],[0.25,5.6],[0.27,2.4],
  [0.29,3.4],[0.31,1.6],[0.33,4.0],[0.35,2.9],[0.37,5.8],[0.39,1.8],[0.41,3.4],[0.43,2.4],
  [0.45,4.8],[0.47,1.9],[0.49,3.0],[0.51,2.4],[0.53,4.3],[0.55,1.8],[0.57,3.1],[0.59,2.2],
  [0.61,5.0],[0.63,2.9],[0.65,4.4],[0.67,2.0],[0.69,3.3],[0.71,5.8],[0.73,2.6],[0.75,4.0],
  [0.77,2.2],[0.79,5.3],[0.81,3.6],[0.83,2.4],[0.85,4.6],[0.87,3.0],[0.89,2.3],[0.91,4.3],
  [0.93,3.4],[0.95,2.6],[0.97,5.0],[0.99,3.4],[1.01,2.7],[1.03,4.6],[1.05,3.1],[1.07,5.6],
  [1.09,2.9],[1.11,3.9],[1.13,5.0],[1.15,3.4],[1.17,4.6],[1.19,3.1],
  [-1.58,0.7],[-1.54,1.8],[-1.49,1.1],[-1.45,2.4],[-1.4,0.7],[-1.36,1.6],[-1.32,2.8],[-1.27,0.9],
  [-1.23,1.7],[-1.18,2.9],[-1.14,1.5],[-1.1,0.6],[-1.06,1.9],[-1.02,3.2]
];
const randomFitX = [-2.9, -2.0, -1.35, -0.6, 0.06, 0.75, 1.43, 2.0, 2.55];
const randomFitY = [0.15, 2.85, 5.0, 7.6, 10.0, 12.5, 15.0, 17.0, 18.9];

// ---- styling ----
const POSTERIOR = '#F8766D';
const PRIOR = '#00BFC4';
const FIT = '#3366FF';
const SANS = '"Liberation Sans", Arial, sans-serif';

const onStep = (v, step) => Math.abs(v / step - Math.round(v / step)) < 1e-6;
const signed = v => (Math.abs(v) < 1e-9 ? '0.0' : v.toFixed(1).replace('-', '\u2212'));

// ggplot-like minimal axis: major lines at labelled ticks, thinner minor lines between
function axis(o) {
  return {
    type: 'linear', min: o.min, max: o.max,
    border: { display: false },
    grid: {
      drawTicks: false,
      color: c => (c.tick && onStep(c.tick.value, o.label) ? '#e9e9e9' : '#f3f3f3'),
      lineWidth: c => (c.tick && onStep(c.tick.value, o.label) ? 1.4 : 1)
    },
    ticks: {
      stepSize: o.step, includeBounds: false, autoSkip: false, maxRotation: 0, minRotation: 0,
      maxTicksLimit: 1000, padding: o.pad, color: '#7f7f7f',
      font: { family: SANS, size: 8 },
      callback: v => (onStep(v, o.label) ? o.fmt(v) : '')
    },
    title: { display: true, text: o.title, color: '#262626',
             font: { family: SANS, size: 9.5 }, padding: o.titlePad },
    // fixed box size; labels may overhang the plot edges instead of shrinking it
    afterFit: s => {
      if (s.isHorizontal()) s.height = o.size; else s.width = o.size;
      s.paddingLeft = s.paddingRight = s.paddingTop = s.paddingBottom = 0;
    }
  };
}

// legend keys drawn as ggplot draws them for vlines: outlined box with a centre line
const keyLegend = {
  id: 'keyLegend',
  afterDatasetsDraw(chart, args, opts) {
    const ctx = chart.ctx;
    opts.items.forEach((it, i) => {
      const x = opts.x, y = opts.y + i * opts.size, s = opts.size;
      ctx.save();
      ctx.strokeStyle = it.color;
      ctx.globalAlpha = 0.85;
      ctx.lineWidth = 1;
      ctx.strokeRect(x + 0.5, y + 0.5, s - 1, s - 1);
      ctx.beginPath();
      ctx.moveTo(x + s / 2, y + 1);
      ctx.lineTo(x + s / 2, y + s - 1);
      ctx.stroke();
      ctx.globalAlpha = 1;
      ctx.fillStyle = '#333';
      ctx.font = '7.5px ' + SANS;
      ctx.textBaseline = 'middle';
      ctx.fillText(it.label, x + s + 5, y + s / 2);
      ctx.restore();
    });
  }
};

const xy = (xs, ys) => xs.map((x, i) => ({ x, y: ys[i] }));
const pts = list => list.map(p => ({ x: p[0], y: p[1] }));

function curve(xs, ys, color) {
  return { type: 'line', data: xy(xs, ys), borderColor: color, borderWidth: 1.1,
           pointRadius: 0, cubicInterpolationMode: 'monotone', fill: false };
}

function vline(x, yRange, color, dashed, width) {
  return { type: 'line', data: [{ x, y: yRange[0] }, { x, y: yRange[1] }], borderColor: color,
           borderWidth: width || 1.1, borderDash: dashed ? [4, 3] : [], pointRadius: 0 };
}

function baseOptions(pad, xAxis, yAxis, legend) {
  return {
    responsive: false, animation: false, events: [],
    layout: { padding: pad },
    plugins: { legend: { display: false }, tooltip: { enabled: false }, keyLegend: legend || { items: [] } },
    scales: { x: xAxis, y: yAxis }
  };
}

const legendItems = [{ label: 'Posterior', color: POSTERIOR }, { label: 'Prior', color: PRIOR }];

// (a) density, chosen listing
const yRangeA = [-0.0102, 0.2146];
new Chart(document.getElementById('chartA'), {
  type: 'line',
  data: { datasets: [
    vline(chosenPosteriorMedian, yRangeA, POSTERIOR, true),
    vline(chosenPosteriorMean, yRangeA, POSTERIOR, false),
    vline(chosenPriorMedian, yRangeA, PRIOR, true),
    vline(chosenPriorMean, yRangeA, PRIOR, false),
    curve(chosenX, chosenPosterior, POSTERIOR),
    curve(chosenX, chosenPrior, PRIOR)
  ] },
  options: baseOptions({ left: 0, right: 7, top: 1, bottom: 0 },
    axis({ min: 0.17, max: 21.66, step: 0.5, label: 1, fmt: v => String(Math.round(v)), pad: 2.5,
           title: 'Elasticity', titlePad: { top: 0, bottom: 3 }, size: 25.5 }),
    axis({ min: yRangeA[0], max: yRangeA[1], step: 0.025, label: 0.05, fmt: v => v.toFixed(2), pad: 4,
           title: 'Density', titlePad: { top: 6.3, bottom: 0 }, size: 37 }),
    { x: 443, y: 23, size: 13.5, items: legendItems }),
  plugins: [keyLegend]
});

// (b) type vs elasticity, chosen listing
new Chart(document.getElementById('chartB'), {
  type: 'scatter',
  data: { datasets: [
    { type: 'line', data: xy(chosenFitX, chosenFitY), borderColor: FIT, borderWidth: 2, pointRadius: 0,
      cubicInterpolationMode: 'monotone', order: 0 },
    { type: 'scatter', data: pts(chosenPoints.concat(chosenPointsDense)), backgroundColor: '#000',
      borderWidth: 0, pointRadius: 2.4, order: 1 }
  ] },
  options: baseOptions({ left: 0, right: 5, top: 20, bottom: 0 },
    axis({ min: -3.06, max: 3.03, step: 0.25, label: 0.5, fmt: signed, pad: 7,
           title: 'Posterior Type', titlePad: { top: 0, bottom: 5.3 }, size: 31.7 }),
    axis({ min: 2.44, max: 11.9, step: 0.5, label: 1, fmt: v => String(Math.round(v)), pad: 3.9,
           title: 'Posterior Price Elasticity', titlePad: { top: 16, bottom: 0 }, size: 40.6 }))
});

// (c) density, random listing
const yRangeC = [-0.0049, 0.1011];
new Chart(document.getElementById('chartC'), {
  type: 'line',
  data: { datasets: [
    vline(randomPosteriorMedian, yRangeC, POSTERIOR, true),
    vline(randomPosteriorMean, yRangeC, 'rgba(248,118,109,0.7)', false, 2),
    vline(randomPriorMedian, yRangeC, 'rgba(0,191,196,0.75)', true, 2),
    vline(randomPriorMean, yRangeC, '#0fa3a8', false),
    curve(randomX, randomPosterior, POSTERIOR),
    curve(randomX, randomPrior, PRIOR)
  ] },
  options: baseOptions({ left: 0, right: 6.4, top: 10, bottom: 0 },
    axis({ min: -1.25, max: 31.07, step: 1, label: 2, fmt: v => String(Math.round(v)), pad: 2.5,
           title: 'Elasticity', titlePad: { top: 0, bottom: 5 }, size: 27.3 }),
    axis({ min: yRangeC[0], max: yRangeC[1], step: 0.0125, label: 0.025, fmt: v => v.toFixed(3), pad: 4.4,
           title: 'Density', titlePad: { top: 6.3, bottom: 0 }, size: 41.7 }),
    { x: 444, y: 30, size: 13.5, items: legendItems }),
  plugins: [keyLegend]
});

// (d) type vs elasticity, random listing
new Chart(document.getElementById('chartD'), {
  type: 'scatter',
  data: { datasets: [
    { type: 'line', data: xy(randomFitX, randomFitY), borderColor: FIT, borderWidth: 2, pointRadius: 0,
      cubicInterpolationMode: 'monotone', order: 0 },
    { type: 'scatter', data: pts(randomPoints.concat(randomPointsDense)), backgroundColor: '#000',
      borderWidth: 0, pointRadius: 2.4, order: 1 }
  ] },
  options: baseOptions({ left: 0, right: 5, top: 15, bottom: 0 },
    axis({ min: -3.14, max: 2.84, step: 0.25, label: 0.5, fmt: signed, pad: 2.5,
           title: 'Posterior Type', titlePad: { top: 0, bottom: 7.6 }, size: 30 }),
    axis({ min: -1.94, max: 45.5, step: 2.5, label: 5, fmt: v => String(Math.round(v)), pad: 7,
           title: 'Posterior Price Elasticity', titlePad: { top: 16, bottom: 0 }, size: 43 }))
});

// pick the first installed Times-like face for the captions
function installedFont(candidates) {
  const ctx = document.createElement('canvas').getContext('2d');
  const probe = '(a) Elasticity Distribution, Chosen Listing 0123';
  for (const name of candidates) {
    for (const base of ['monospace', 'sans-serif']) {
      ctx.font = '28px ' + base;
      const w0 = ctx.measureText(probe).width;
      ctx.font = '28px "' + name + '", ' + base;
      if (ctx.measureText(probe).width !== w0) return name;
    }
  }
  return null;
}
const captionFont = installedFont(['Latin Modern Roman', 'CMU Serif', 'Liberation Serif', 'Times New Roman',
  'Tinos', 'Nimbus Roman', 'Nimbus Roman No9 L', 'FreeSerif', 'Noto Serif', 'DejaVu Serif']);
if (captionFont) {
  document.querySelectorAll('.cap').forEach(el => { el.style.fontFamily = '"' + captionFont + '", serif'; });
}

// stretch caption lines horizontally to their set widths and sit them on their baselines
function fitCaptions() {
  const capScale = {};
  document.querySelectorAll('.cap[data-w]').forEach(el => {
    el.style.transform = 'none';
    const k = Number(el.dataset.w) / el.getBoundingClientRect().width;
    capScale[el.id] = k;
    el.style.transform = 'scaleX(' + k + ')';
  });
  document.querySelectorAll('.cap[data-of]').forEach(el => {
    el.style.transform = 'scaleX(' + capScale[el.dataset.of] + ')';
  });
  document.querySelectorAll('.cap[data-base]').forEach(el => {
    const mark = document.createElement('span');
    mark.style.cssText = 'display:inline-block;width:0;height:0;vertical-align:baseline';
    el.appendChild(mark);
    const y = mark.getBoundingClientRect().top;
    el.removeChild(mark);
    el.style.top = (parseFloat(el.style.top) + Number(el.dataset.base) - y) + 'px';
  });
}
fitCaptions();
if (document.fonts && document.fonts.ready) document.fonts.ready.then(fitCaptions);
</script>
</body>
</html>
